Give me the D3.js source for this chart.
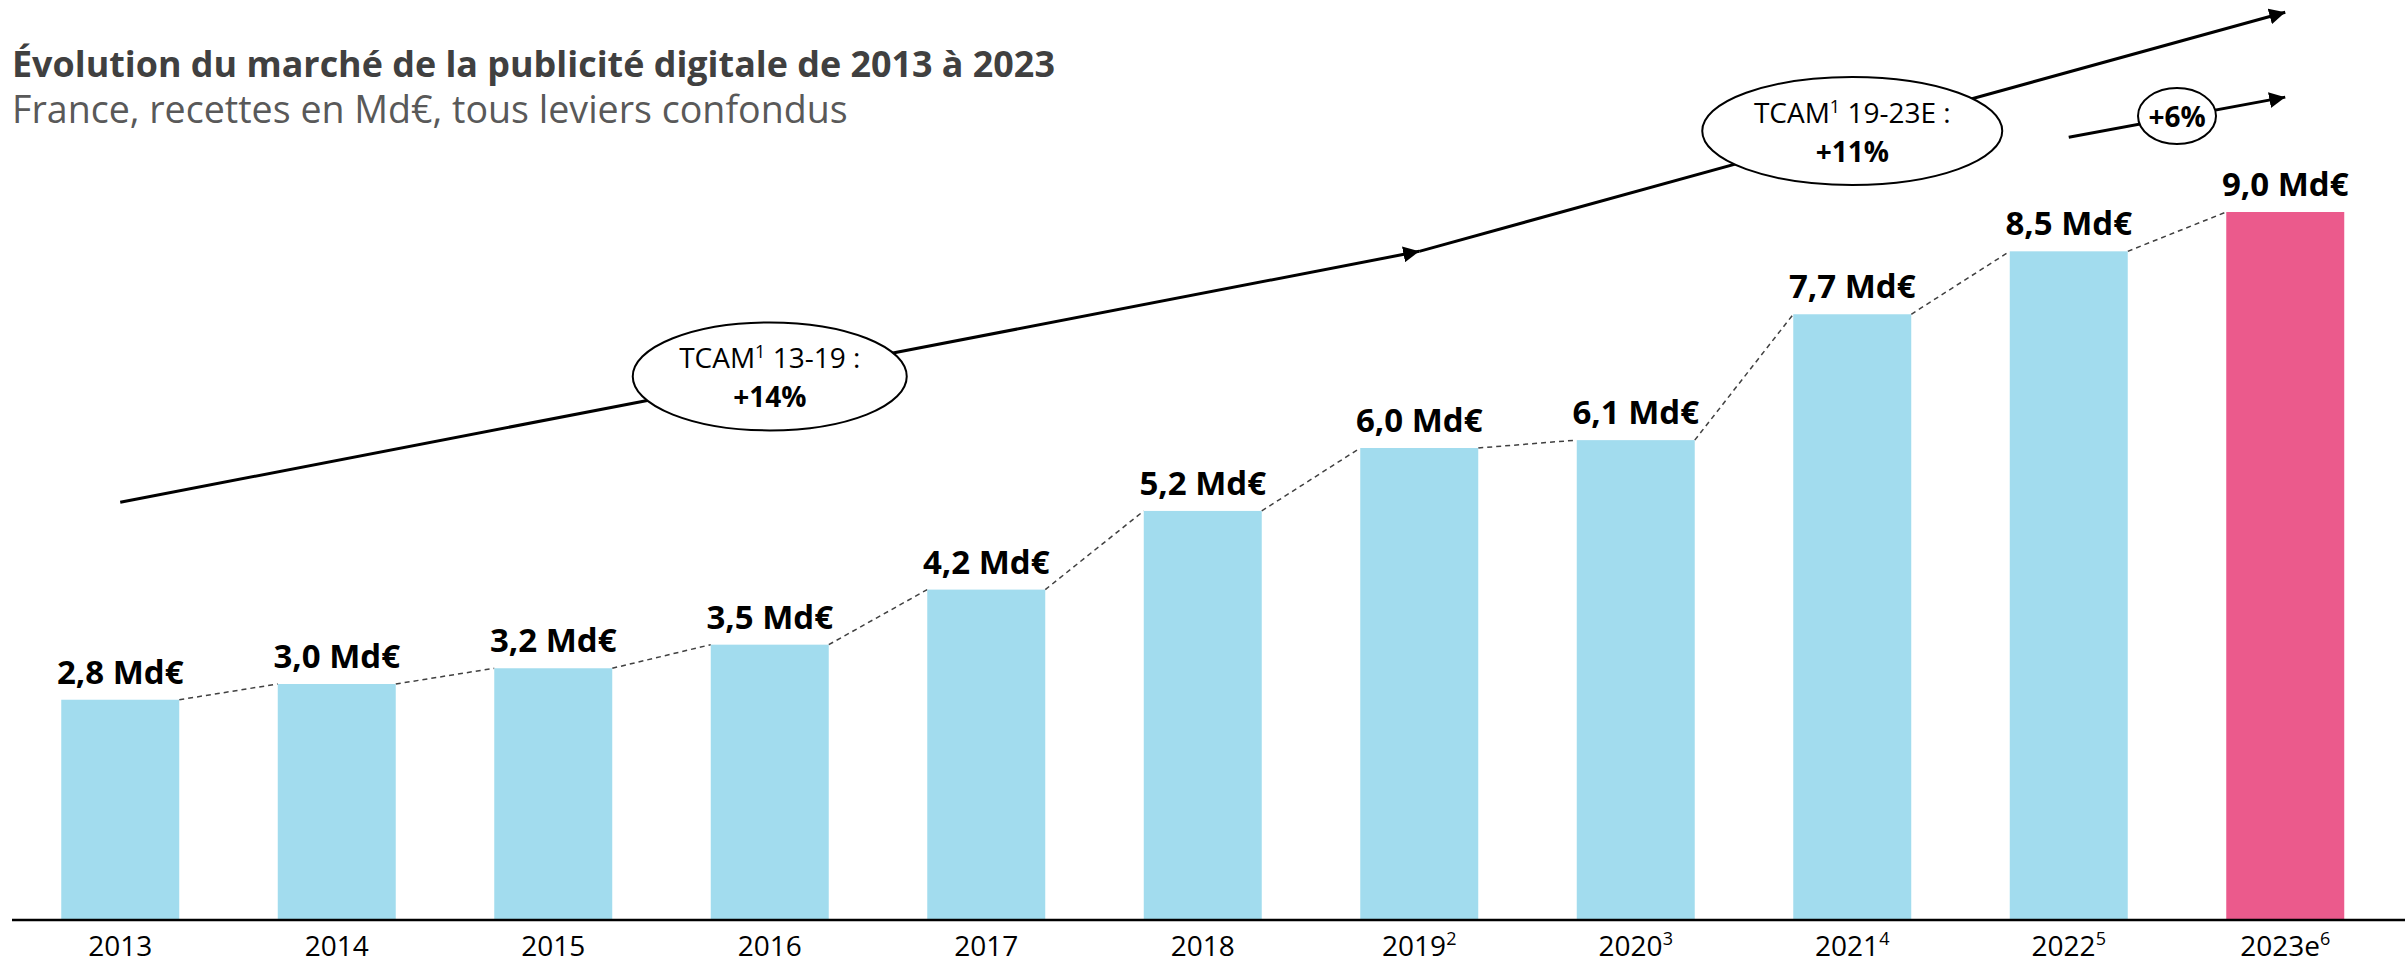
<!DOCTYPE html>
<html lang="fr">
<head>
<meta charset="utf-8">
<script src="https://cdn.jsdelivr.net/npm/d3@7"></script>
<style>
  html, body { margin: 0; padding: 0; background: #fff; }
  svg { display: block; font-family: "Open Sans", sans-serif; }
  .bar-label { font-weight: 700; font-size: 33px; fill: #000; text-anchor: middle; }
  .year-label { font-family: "Open Sans", sans-serif; font-size: 28px; fill: #000; text-anchor: middle; }
  .bubble-text { font-size: 28px; fill: #000; text-anchor: middle; }
</style>
</head>
<body>
<svg id="chart"></svg>
<script>
// Market values (Md€) per year
const years = ["2013", "2014", "2015", "2016", "2017", "2018", "2019", "2020", "2021", "2022", "2023e"];
const yearNotes = ["", "", "", "", "", "", "2", "3", "4", "5", "6"];
const values = [2.8, 3.0, 3.2, 3.5, 4.2, 5.2, 6.0, 6.1, 7.7, 8.5, 9.0];
const isEstimate = [false, false, false, false, false, false, false, false, false, false, true];

// Growth annotations, in (year index, value) space
const trendFrom = [[0, 5.31], [6, 8.50], [9, 9.95]];
const trendTo = [[6, 8.50], [10, 11.54], [10, 10.46]];
const bubbleAt = [[3, 6.91], [8, 10.03], [9.5, 10.22]];
const bubbleLine1 = ["TCAM|1| 13-19 :", "TCAM|1| 19-23E :", ""];
const bubbleLine2 = ["+14%", "+11%", "+6%"];

const title = "Évolution du marché de la publicité digitale de 2013 à 2023";
const subtitle = "France, recettes en Md€, tous leviers confondus";

const width = 2405, height = 966;
const baseline = 920;

const svg = d3.select("#chart").attr("width", width).attr("height", height);

// Scales
const x = d3.scaleBand()
  .domain(years)
  .range([12, 2393.5])
  .paddingInner(0.455)
  .paddingOuter(0.2275);

const y = d3.scaleLinear().domain([0, 9]).range([baseline, 212]);

// centre of a (possibly fractional) year index
const xi = i => x(years[0]) + x.step() * i + x.bandwidth() / 2;

// Title + subtitle, fitted to the original widths
function fitText(sel, target) {
  const w = sel.node().getComputedTextLength();
  const fs = parseFloat(sel.style("font-size"));
  sel.style("font-size", (fs * target / w).toFixed(2) + "px");
}

const t1 = svg.append("text")
  .attr("x", 12).attr("y", 77)
  .style("font-size", "34px").style("font-weight", 700)
  .attr("fill", "#404040")
  .text(title);
fitText(t1, 1043);

const t2 = svg.append("text")
  .attr("x", 12).attr("y", 123)
  .style("font-size", "32px")
  .attr("fill", "#595959")
  .text(subtitle);
fitText(t2, 836);

// Dashed connectors between bar tops
const pairs = d3.pairs(d3.range(years.length));
svg.append("g")
  .selectAll("line")
  .data(pairs)
  .join("line")
  .attr("x1", ([a]) => x(years[a]) + x.bandwidth())
  .attr("y1", ([a]) => y(values[a]))
  .attr("x2", ([, b]) => x(years[b]))
  .attr("y2", ([, b]) => y(values[b]))
  .attr("stroke", "#404040")
  .attr("stroke-width", 1.5)
  .attr("stroke-dasharray", "5,4");

// Bars
svg.append("g")
  .selectAll("rect")
  .data(years)
  .join("rect")
  .attr("x", d => x(d))
  .attr("width", x.bandwidth())
  .attr("y", (d, i) => y(values[i]))
  .attr("height", (d, i) => baseline - y(values[i]))
  .attr("fill", (d, i) => isEstimate[i] ? "#EB5A8C" : "#A2DCEE");

// Value labels
svg.append("g")
  .selectAll("text")
  .data(years)
  .join("text")
  .attr("class", "bar-label")
  .attr("x", d => x(d) + x.bandwidth() / 2)
  .attr("y", (d, i) => y(values[i]) - 16)
  .text((d, i) => values[i].toFixed(1).replace(".", ",") + " Md€");

// X axis
const xAxis = d3.axisBottom(x).tickSize(0).tickPadding(0).tickFormat("");
const xAxisG = svg.append("g")
  .attr("transform", `translate(0,${baseline})`)
  .attr("font-family", null)
  .attr("font-size", null)
  .call(xAxis);
xAxisG.attr("font-family", null).attr("font-size", null);
xAxisG.select(".domain").remove();
svg.append("line")
  .attr("x1", 12).attr("x2", width)
  .attr("y1", baseline).attr("y2", baseline)
  .attr("stroke", "#000").attr("stroke-width", 2.5);

const yl = xAxisG.selectAll(".tick")
  .append("text")
  .attr("class", "year-label")
  .attr("y", 36)
  .attr("fill", "#000");
yl.append("tspan").text(d => d);
yl.append("tspan")
  .attr("dy", -11)
  .style("font-size", "18px")
  .text((d, i) => yearNotes[i]);

// Growth arrows
svg.append("defs").append("marker")
  .attr("id", "head")
  .attr("viewBox", "0 0 16 16")
  .attr("refX", 16).attr("refY", 8)
  .attr("markerWidth", 16).attr("markerHeight", 16)
  .attr("markerUnits", "userSpaceOnUse")
  .attr("orient", "auto")
  .append("path")
  .attr("d", "M0,0L16,8L0,16Z")
  .attr("fill", "#000");

svg.append("g")
  .selectAll("line")
  .data(trendFrom)
  .join("line")
  .attr("x1", d => xi(d[0]))
  .attr("y1", d => y(d[1]))
  .attr("x2", (d, i) => xi(trendTo[i][0]))
  .attr("y2", (d, i) => y(trendTo[i][1]))
  .attr("stroke", "#000")
  .attr("stroke-width", 3)
  .attr("marker-end", "url(#head)");

// CAGR bubbles
const rx = [137, 150, 39], ry = [54, 54, 28];
const bubbles = svg.append("g")
  .selectAll("g")
  .data(bubbleAt)
  .join("g")
  .attr("transform", d => `translate(${xi(d[0])},${y(d[1])})`);

bubbles.append("ellipse")
  .attr("rx", (d, i) => rx[i])
  .attr("ry", (d, i) => ry[i])
  .attr("fill", "#fff")
  .attr("stroke", "#000")
  .attr("stroke-width", 2);

bubbles.each(function (d, i) {
  const g = d3.select(this);
  if (bubbleLine1[i]) {
    const parts = bubbleLine1[i].split("|");
    const t = g.append("text").attr("class", "bubble-text").attr("y", -8);
    t.append("tspan").text(parts[0]);
    t.append("tspan").attr("dy", -10).style("font-size", "18px").text(parts[1]);
    t.append("tspan").attr("dy", 10).text(parts[2]);
    g.append("text").attr("class", "bubble-text")
      .attr("y", 31).style("font-weight", 700)
      .text(bubbleLine2[i]);
  } else {
    g.append("text").attr("class", "bubble-text")
      .attr("y", 11).style("font-weight", 700)
      .text(bubbleLine2[i]);
  }
});
</script>
</body>
</html>
